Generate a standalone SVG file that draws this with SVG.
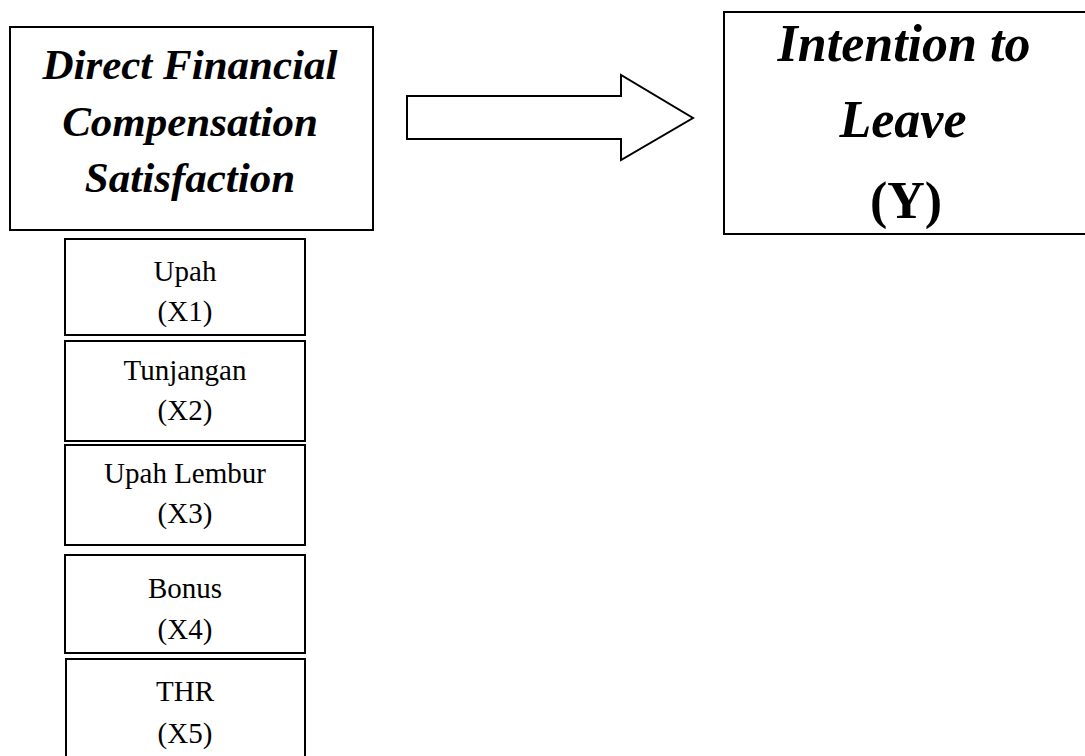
<svg xmlns="http://www.w3.org/2000/svg" width="1085" height="756" viewBox="0 0 1085 756">
<style>
.box{fill:#fff;stroke:#000;stroke-width:2}
.t{font-family:"Liberation Serif","Times New Roman",serif;fill:#000;text-anchor:middle}
.h{font-weight:bold;font-style:italic;font-size:43px}
.hr{font-weight:bold;font-style:italic;font-size:52px}
.y{font-weight:bold;font-size:52px}
.s{font-size:29px}
</style>
<rect width="1085" height="756" fill="#fff"/>
<g id="dfcs">
<rect class="box" x="10" y="27" width="363" height="203"/>
<text class="t h" x="190" y="79">Direct Financial</text>
<text class="t h" x="190" y="136">Compensation</text>
<text class="t h" x="190" y="192">Satisfaction</text>
</g>
<g id="itl">
<rect class="box" x="724" y="12" width="370" height="222"/>
<text class="t hr" x="904" y="61">Intention to</text>
<text class="t hr" x="903" y="137">Leave</text>
<text class="t y" x="906" y="218">(Y)</text>
</g>
<g id="x1">
<rect class="box" x="65" y="239" width="240" height="96"/>
<text class="t s" x="185" y="281">Upah</text>
<text class="t s" x="185" y="321">(X1)</text>
</g>
<g id="x2">
<rect class="box" x="65" y="341" width="240" height="100"/>
<text class="t s" x="185" y="380">Tunjangan</text>
<text class="t s" x="185" y="420">(X2)</text>
</g>
<g id="x3">
<rect class="box" x="65" y="445" width="240" height="100"/>
<text class="t s" x="185" y="483">Upah Lembur</text>
<text class="t s" x="185" y="523">(X3)</text>
</g>
<g id="x4">
<rect class="box" x="65" y="555" width="240" height="98"/>
<text class="t s" x="185" y="598">Bonus</text>
<text class="t s" x="185" y="639">(X4)</text>
</g>
<g id="x5">
<rect class="box" x="66" y="659" width="239" height="110"/>
<text class="t s" x="185" y="701">THR</text>
<text class="t s" x="185" y="743">(X5)</text>
</g>
<g id="connectors">
<polygon class="box" points="407,96 621,96 621,75 693,118 621,160 621,139 407,139"/>
</g>
</svg>
